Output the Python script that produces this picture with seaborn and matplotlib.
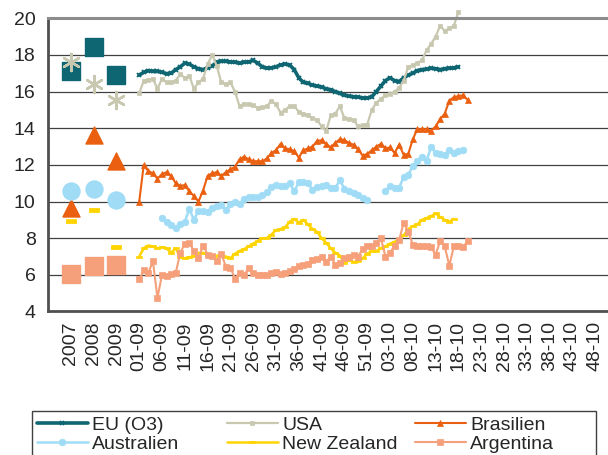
import numpy as np
import pandas as pd
import seaborn as sns
import matplotlib.pyplot as plt
from matplotlib.patches import Rectangle

# =========================
# DATA
# =========================
years = ["2007", "2008", "2009"]

eu_year = [17.1, 18.45, 16.9]
usa_year = [17.6, 16.4, 15.55]
bra_year = [9.65, 13.65, 12.2]
aus_year = [10.55, 10.7, 10.1]
nz_year = [8.95, 9.55, 7.5]
arg_year = [6.05, 6.5, 6.55]

# weekly values, first value = week 01-09
eu_weeks = [16.9, 17.05, 17.15, 17.1, 17.1, 17.05, 16.98, 17.0, 17.2, 17.35,
            17.55, 17.5, 17.35, 17.25, 17.2, 17.3, 17.4, 17.6, 17.65, 17.65,
            17.62, 17.6, 17.55, 17.6, 17.62, 17.7, 17.55, 17.35, 17.28, 17.3,
            17.36, 17.45, 17.5, 17.45, 17.2, 16.75, 16.5, 16.45, 16.35, 16.3,
            16.25, 16.15, 16.1, 16.0, 15.9, 15.8, 15.75, 15.72, 15.7, 15.65,
            15.65, 15.72, 16.0, 16.3, 16.6, 16.75, 16.6, 16.55, 16.75, 16.9,
            17.0, 17.15, 17.2, 17.22, 17.27, 17.25, 17.2, 17.25, 17.27, 17.3,
            17.35]

usa_weeks = [15.9, 16.6, 16.65, 16.7, 16.15, 16.7, 16.5, 16.5, 16.6, 16.95,
             16.75, 16.85, 16.15, 16.5, 16.7, 17.5, 18.0, 17.4, 16.5, 16.4,
             16.5, 16.0, 15.2, 15.35, 15.3, 15.25, 15.1, 15.15, 15.2, 15.5,
             15.3, 14.85, 15.0, 15.2, 15.2, 14.9, 14.8, 14.7, 14.55, 14.45,
             14.1, 13.85, 14.7, 14.8, 15.2, 14.55, 14.5, 14.45, 14.1, 14.15,
             14.2, 15.0, 15.4, 15.6, 15.8, 15.85, 16.0, 16.2, 16.6, 17.35,
             17.45, 17.55, 17.7, 18.25, 18.6, 19.0, 19.6, 19.3, 19.45, 19.6,
             20.35]

bra_weeks = [10.0, 12.0, 11.65, 11.55, 11.25, 11.5, 11.6, 11.4, 11.0, 10.85,
             10.9, 10.55, 10.3, 10.0, 10.6, 11.4, 11.55, 11.6, 11.4, 11.6,
             11.75, 11.9, 12.3, 12.45, 12.3, 12.2, 12.2, 12.2, 12.35, 12.65,
             12.8, 13.15, 12.9, 12.85, 12.75, 12.4, 12.8, 12.9, 13.0, 13.3,
             13.35, 13.15, 12.95, 13.2, 13.4, 13.35, 13.2, 13.1, 12.85, 12.5,
             12.6, 12.8, 13.0, 13.15, 12.9, 12.95, 12.65, 13.1, 12.55, 12.6,
             13.4, 13.95, 13.95, 13.95, 13.85, 14.1, 14.5, 14.8, 15.5, 15.7,
             15.75, 15.8, 15.55]

# Australien starts at week 06-09, gap of three weeks around new year
aus_start = 5
aus_weeks = [9.1, 8.9, 8.7, 8.55, 8.75, 8.9, 9.6, 9.0, 9.5, 9.5,
             9.45, 9.65, 9.75, 9.8, 9.55, 9.85, 10.0, 9.85, 10.15, 10.25,
             10.27, 10.25, 10.35, 10.5, 10.8, 10.9, 10.85, 10.85, 11.0, 10.55,
             11.05, 11.05, 11.0, 10.65, 10.8, 10.85, 10.9, 10.75, 10.75, 11.15,
             10.7, 10.55, 10.45, 10.35, 10.2, 10.1, np.nan, np.nan, np.nan, 10.6,
             10.85, 10.75, 10.75, 11.35, 11.45, 11.95, 12.2, 12.45, 12.2, 13.0,
             12.65, 12.6, 12.55, 12.8, 12.65, 12.75, 12.8]

nz_weeks = [7.0, 7.45, 7.6, 7.55, 7.45, 7.5, 7.45, 7.2, 7.45, 6.95,
            6.9, 6.95, 7.05, 7.2, 7.2, 7.1, 7.0, 7.05, 7.05, 7.0,
            6.9, 7.15, 7.3, 7.4, 7.55, 7.7, 7.85, 8.0, 8.0, 8.2,
            8.45, 8.5, 8.6, 8.9, 9.05, 8.85, 9.0, 8.75, 8.5, 8.35,
            8.0, 7.75, 7.45, 7.2, 7.05, 6.65, 6.8, 6.7, 6.75, 6.9,
            7.15, 7.3, 7.3, 7.45, 7.55, 7.7, 7.8, 7.95, 8.15, 8.5,
            8.65, 8.75, 9.0, 9.1, 9.2, 9.35, 9.15, 9.0, 8.9, 9.05]

arg_weeks = [5.75, 6.25, 6.1, 6.75, 4.75, 6.0, 5.95, 6.05, 6.1, 7.2,
             7.7, 7.75, 7.3, 6.9, 7.6, 7.1, 7.05, 6.75, 7.15, 6.45,
             6.4, 5.8, 6.1, 6.0, 6.35, 6.1, 6.0, 6.0, 6.0, 6.1,
             6.15, 6.05, 6.1, 6.2, 6.3, 6.5, 6.55, 6.6, 6.8, 6.85,
             7.0, 6.7, 7.0, 6.55, 6.65, 6.9, 7.0, 7.1, 7.0, 7.4,
             7.55, 7.6, 7.75, 8.0, 7.0, 7.2, 7.6, 7.9, 8.85, 8.35,
             7.65, 7.55, 7.55, 7.55, 7.5, 7.1, 7.85, 7.55, 6.5, 7.55,
             7.55, 7.5, 7.85]

tick_labels = ["2007", "2008", "2009",
               "01-09", "06-09", "11-09", "16-09", "21-09", "26-09", "31-09",
               "36-09", "41-09", "46-09", "51-09",
               "03-10", "08-10", "13-10", "18-10", "23-10", "28-10", "33-10",
               "38-10", "43-10", "48-10"]

# =========================
# STYLE
# =========================
sns.set_style("white")
plt.rcParams["font.family"] = ["Liberation Sans", "DejaVu Sans"]
plt.rcParams["font.size"] = 14

c_eu = "#0e6673"
c_usa = "#c8c8b0"
c_bra = "#ea6010"
c_aus = "#a0dcf5"
c_nz = "#ffd400"
c_arg = "#f5a07a"

dash = [(-1, -0.38), (1, -0.38), (1, 0.38), (-1, 0.38), (-1, -0.38)]

fig = plt.figure(figsize=(6.08, 4.55), dpi=100)
ax = fig.add_axes([48 / 608, 0.3154, 1 - 48 / 608, 0.9598 - 0.3154])

year_x = [0, 5, 10]   # one category slot per year, weeks start at slot 15
week0 = 15


def weeks_x(vals, start=0):
    return np.arange(len(vals)) + week0 + start


# =========================
# WEEKLY LINES
# =========================
sns.lineplot(x=weeks_x(eu_weeks), y=eu_weeks, color=c_eu, lw=2.6,
             marker="x", ms=3.5, mec=c_eu, mew=1.3, label="EU (O3)", ax=ax)
sns.lineplot(x=weeks_x(usa_weeks), y=usa_weeks, color=c_usa, lw=1.6,
             marker="s", ms=3, mec=c_usa, mew=0.5, label="USA", ax=ax,
             clip_on=False)
sns.lineplot(x=weeks_x(bra_weeks), y=bra_weeks, color=c_bra, lw=1.5,
             marker="^", ms=4.5, mec=c_bra, mew=0.5, label="Brasilien", ax=ax)

aus = pd.DataFrame({"x": weeks_x(aus_weeks, aus_start), "y": aus_weeks})
aus["seg"] = aus["y"].isna().cumsum()
aus = aus.dropna()
first = True
for _, part in aus.groupby("seg"):
    sns.lineplot(x=part["x"].values, y=part["y"].values, color=c_aus, lw=1.8,
                 marker="o", ms=4.8, mec=c_aus, mew=0.5,
                 label="Australien" if first else None, ax=ax)
    first = False

sns.lineplot(x=weeks_x(nz_weeks), y=nz_weeks, color=c_nz, lw=1.8,
             marker=dash, ms=4.5, mec=c_nz, mew=0.5, label="New Zealand", ax=ax)
sns.lineplot(x=weeks_x(arg_weeks), y=arg_weeks, color=c_arg, lw=1.5,
             marker="s", ms=4.2, mec=c_arg, mew=0.5, label="Argentina", ax=ax)

# =========================
# YEAR AVERAGES
# =========================
sns.scatterplot(x=year_x, y=eu_year, marker="s", s=150, color=c_eu,
                edgecolor=c_eu, ax=ax, zorder=5)
sns.scatterplot(x=year_x, y=usa_year, marker=(6, 2, 0), s=150, color=c_usa,
                edgecolor=c_usa, linewidth=1.8, ax=ax, zorder=5)
sns.scatterplot(x=year_x, y=bra_year, marker="^", s=150, color=c_bra,
                edgecolor=c_bra, ax=ax, zorder=5)
sns.scatterplot(x=year_x, y=aus_year, marker="o", s=150, color=c_aus,
                edgecolor=c_aus, ax=ax, zorder=5)
sns.scatterplot(x=year_x, y=nz_year, marker=dash, s=50, color=c_nz,
                edgecolor=c_nz, ax=ax, zorder=5)
sns.scatterplot(x=year_x, y=arg_year, marker="s", s=150, color=c_arg,
                edgecolor=c_arg, ax=ax, zorder=5)

# =========================
# AXES
# =========================
ax.set_xlim(-5, 117.8)
ax.set_ylim(4, 20)
ax.set_yticks(range(4, 21, 2))
ax.set_xticks(range(0, 5 * len(tick_labels), 5))
ax.set_xticklabels(tick_labels, rotation=90)
ax.set_xlabel("")
ax.set_ylabel("")

ax.yaxis.grid(True, color="#404040", lw=0.9)
ax.set_axisbelow(True)
for s in ["left", "bottom"]:
    ax.spines[s].set_color("#505050")
    ax.spines[s].set_linewidth(2)
ax.spines["top"].set_color("#8c8c8c")
ax.spines["top"].set_linewidth(2.2)
ax.spines["right"].set_visible(False)
ax.tick_params(axis="both", which="major", direction="out", length=4,
               width=1, color="#404040", labelsize=14, pad=3)
ax.tick_params(axis="y", pad=5)

# =========================
# LEGEND (3 columns x 2 rows in a box)
# =========================
leg = ax.get_legend()
if leg is not None:
    leg.remove()
handles, labels = ax.get_legend_handles_labels()
lookup = dict(zip(labels, handles))
columns = [["EU (O3)", "Australien"], ["USA", "New Zealand"],
           ["Brasilien", "Argentina"]]
col_x = [37, 227, 415]
for names, x in zip(columns, col_x):
    lg = fig.legend([lookup[n] for n in names], names, loc="upper left",
                    bbox_to_anchor=(x / 608, (455 - 416) / 455),
                    frameon=False, fontsize=14, handlelength=2.6,
                    handletextpad=0.25, labelspacing=0.08, borderpad=0,
                    borderaxespad=0)

fig.patches.append(Rectangle((32 / 608, -0.05), 564 / 608, (455 - 411) / 455 + 0.05,
                             transform=fig.transFigure, fill=False,
                             edgecolor="#404040", lw=1))

plt.savefig("out.png", dpi=100)
